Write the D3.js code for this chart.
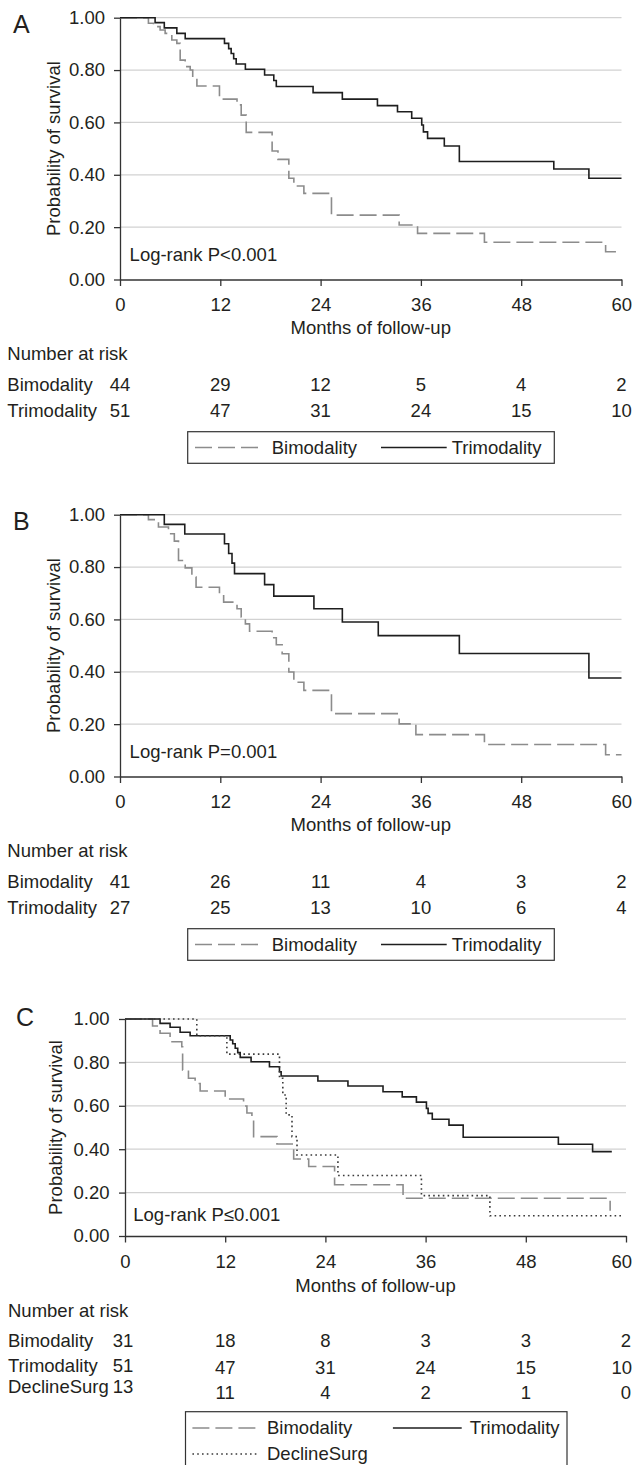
<!DOCTYPE html>
<html><head><meta charset="utf-8">
<script src="https://cdn.jsdelivr.net/npm/d3@7"></script>
<style>
html,body{margin:0;padding:0;background:#fff;}
svg{display:block;}
text{font-family:"Liberation Sans", Arial, Helvetica, sans-serif; fill:#231f20;}
</style></head><body>
<svg id="chart" width="633" height="1465"></svg>
<script>
// ---------- data ----------
const monthTicks = [0, 12, 24, 36, 48, 60];
const survTicks = [0, 0.2, 0.4, 0.6, 0.8, 1.0];
const seriesNames = ["Bimodality", "Trimodality", "DeclineSurg"];
const pTexts = ["Log-rank P<0.001", "Log-rank P=0.001", "Log-rank P\u22640.001"];
const panelLabels = ["A", "B", "C"];

// Panel A
const aBimoTime = [0, 3.4, 4.0, 4.8, 5.4, 6.2, 6.8, 7.2, 7.8, 8.4, 8.7, 9.2, 11.9, 14.0, 14.5, 15.1, 18.2, 18.9, 20.2, 20.8, 22.0, 25.3, 33.4, 35.6, 43.6, 58.1];
const aBimoSurv = [1.0, 0.979, 0.966, 0.953, 0.940, 0.915, 0.902, 0.838, 0.813, 0.800, 0.768, 0.739, 0.689, 0.667, 0.628, 0.562, 0.491, 0.459, 0.387, 0.357, 0.329, 0.246, 0.208, 0.176, 0.142, 0.106];
const aTrimoTime = [0, 4.2, 5.3, 6.8, 7.8, 12.5, 13.0, 13.3, 13.6, 13.9, 15.0, 17.3, 18.4, 18.7, 23.1, 26.6, 30.8, 33.2, 34.9, 36.1, 36.3, 36.8, 38.8, 40.6, 51.9, 56.1];
const aTrimoSurv = [1.0, 0.981, 0.961, 0.940, 0.920, 0.902, 0.882, 0.863, 0.843, 0.823, 0.803, 0.781, 0.760, 0.737, 0.714, 0.689, 0.664, 0.641, 0.616, 0.590, 0.564, 0.539, 0.510, 0.451, 0.422, 0.387];
const aRiskBimo = [44, 29, 12, 5, 4, 2];
const aRiskTrimo = [51, 47, 31, 24, 15, 10];

// Panel B
const bBimoTime = [0, 3.4, 4.6, 5.8, 6.5, 7.0, 7.8, 8.6, 9.1, 11.9, 12.4, 14.0, 14.5, 15.0, 15.5, 18.2, 18.7, 19.4, 20.2, 20.8, 22.0, 25.3, 33.4, 35.4, 43.6, 58.1];
const bBimoSurv = [1.0, 0.981, 0.953, 0.927, 0.899, 0.825, 0.797, 0.762, 0.723, 0.694, 0.666, 0.641, 0.609, 0.583, 0.555, 0.530, 0.503, 0.469, 0.399, 0.360, 0.329, 0.240, 0.201, 0.160, 0.122, 0.083];
const bTrimoTime = [0, 5.3, 7.75, 12.5, 13.0, 13.4, 13.7, 17.3, 18.4, 23.2, 26.6, 30.9, 40.6, 56.1];
const bTrimoSurv = [1.0, 0.963, 0.926, 0.889, 0.852, 0.815, 0.775, 0.733, 0.689, 0.641, 0.590, 0.538, 0.470, 0.376];
const bRiskBimo = [41, 26, 11, 4, 3, 2];
const bRiskTrimo = [27, 25, 13, 10, 6, 4];

// Panel C
const cBimoTime = [0, 3.3, 4.2, 5.4, 6.8, 6.9, 7.6, 8.4, 9.0, 12.0, 14.2, 14.6, 15.2, 15.4, 18.2, 20.2, 22.0, 25.1, 33.3, 58.1];
const cBimoSurv = [1.0, 0.968, 0.934, 0.895, 0.872, 0.765, 0.727, 0.703, 0.668, 0.631, 0.599, 0.567, 0.535, 0.458, 0.424, 0.355, 0.320, 0.236, 0.174, 0.116];
const cTrimoTime = [0, 4.2, 5.4, 6.6, 7.8, 12.6, 12.9, 13.2, 13.5, 13.8, 15.1, 17.3, 18.5, 18.7, 23.1, 26.7, 30.9, 33.2, 34.9, 36.1, 36.3, 36.8, 38.8, 40.5, 51.9, 56.0];
const cTrimoSurv = [1.0, 0.980, 0.962, 0.939, 0.923, 0.903, 0.886, 0.865, 0.845, 0.823, 0.803, 0.780, 0.757, 0.737, 0.714, 0.691, 0.665, 0.641, 0.617, 0.588, 0.565, 0.538, 0.511, 0.455, 0.423, 0.389];
const cDeclTime = [0, 8.6, 12.2, 18.5, 18.9, 19.3, 20.0, 20.6, 25.5, 35.5, 43.7];
const cDeclSurv = [1.0, 0.923, 0.838, 0.727, 0.650, 0.558, 0.458, 0.373, 0.279, 0.186, 0.093];
const cRiskBimo = [31, 18, 8, 3, 3, 2];
const cRiskTrimo = [51, 47, 31, 24, 15, 10];
const cRiskDecl = [13, 11, 4, 2, 1, 0];

// ---------- styles ----------
const styles = {
  dash:  {stroke: "#8c8c8c", width: 1.6, dash: "17,6"},
  solid: {stroke: "#1e1e1e", width: 1.6, dash: null},
  dot:   {stroke: "#3a3a3a", width: 1.6, dash: "1.6,3.2"}
};
const FS = 18.5;
const W = 633;

// ---------- layout ----------
function layoutAB(dy) {
  return {
    x0: 120, x1: 621.5, yTop: 17.7 + dy, yBot: 279.5 + dy,
    labelX: 13, labelY: 33 + dy, tickRight: 105, xTickBase: 310.7 + dy, xTitleBase: 334 + dy,
    yTitleX: 60, logX: 129.6, logY: 260.7 + dy, narY: 360 + dy, rowX: 7.3,
    rowLabelY: [391 + dy, 416.7 + dy], rowNumY: [391 + dy, 416.7 + dy], firstShift: 0,
    legend: {x: 187.7, y: 431.7 + dy, w: 366.6, h: 31.6,
      items: [{sx1: 195, sx2: 260, tx: 271.7, ly: 447.5 + dy, ty: 454 + dy},
              {sx1: 381, sx2: 446.7, tx: 451.7, ly: 447.5 + dy, ty: 454 + dy}]}
  };
}
const layoutC = {
  x0: 125, x1: 626, yTop: 1019, yBot: 1236,
  labelX: 16, labelY: 1026, tickRight: 109.5, xTickBase: 1268.3, xTitleBase: 1291.7,
  yTitleX: 62, logX: 133.3, logY: 1221, narY: 1317, rowX: 8,
  rowLabelY: [1346.7, 1371.7, 1393.3], rowNumY: [1346.7, 1374, 1399.3], firstShift: -2,
  legend: {x: 185.5, y: 1411.7, w: 381.5, h: 64,
    items: [{sx1: 192.4, sx2: 259.2, tx: 267, ly: 1428, ty: 1434},
            {sx1: 392.9, sx2: 461.7, tx: 469.8, ly: 1428, ty: 1434},
            {sx1: 192.4, sx2: 259.2, tx: 267, ly: 1454, ty: 1460}]}
};

const panels = [
  {label: panelLabels[0], p: pTexts[0], L: layoutAB(0),
   series: [{name: seriesNames[0], t: aBimoTime, s: aBimoSurv, end: 60, st: "dash"},
            {name: seriesNames[1], t: aTrimoTime, s: aTrimoSurv, end: 60, st: "solid"}],
   risk: [aRiskBimo, aRiskTrimo]},
  {label: panelLabels[1], p: pTexts[1], L: layoutAB(497),
   series: [{name: seriesNames[0], t: bBimoTime, s: bBimoSurv, end: 60, st: "dash"},
            {name: seriesNames[1], t: bTrimoTime, s: bTrimoSurv, end: 60, st: "solid"}],
   risk: [bRiskBimo, bRiskTrimo]},
  {label: panelLabels[2], p: pTexts[2], L: layoutC,
   series: [{name: seriesNames[0], t: cBimoTime, s: cBimoSurv, end: 58.1, st: "dash"},
            {name: seriesNames[1], t: cTrimoTime, s: cTrimoSurv, end: 58.3, st: "solid"},
            {name: seriesNames[2], t: cDeclTime, s: cDeclSurv, end: 59.6, st: "dot"}],
   risk: [cRiskBimo, cRiskTrimo, cRiskDecl]}
];

const svg = d3.select("#chart");

function styleLine(sel, st) {
  const s = styles[st];
  sel.attr("fill", "none").attr("stroke", s.stroke).attr("stroke-width", s.width);
  if (s.dash) sel.attr("stroke-dasharray", s.dash);
  return sel;
}

// keep centred texts inside the right edge of the page
function clampRight(sel) {
  sel.each(function () {
    const b = this.getBBox();
    const m = this.getCTM();
    const right = (m ? m.e : 0) + b.x + b.width;
    if (right > W - 1) {
      const shift = right - (W - 1);
      const cur = +this.getAttribute("x") || 0;
      this.setAttribute("x", cur - shift);
    }
  });
}

panels.forEach(P => {
  const L = P.L;
  const g = svg.append("g");
  const x = d3.scaleLinear().domain([0, 60]).range([L.x0, L.x1]);
  const y = d3.scaleLinear().domain([0, 1]).range([L.yBot, L.yTop]);

  // gridlines
  g.append("g").selectAll("line").data(survTicks.filter(d => d > 0)).join("line")
    .attr("x1", x(0)).attr("x2", x(60))
    .attr("y1", d => y(d)).attr("y2", d => y(d))
    .attr("stroke", "#d2d2d2").attr("stroke-width", 1.2);

  // y axis
  const ya = g.append("g").attr("transform", `translate(${x(0)},0)`)
    .call(d3.axisLeft(y).tickValues(survTicks).tickFormat(d3.format(".2f")).tickSize(6).tickSizeOuter(0).tickPadding(9));
  ya.select(".domain").attr("stroke", "#333").attr("stroke-width", 1.3);
  ya.selectAll(".tick line").attr("stroke", "#333").attr("stroke-width", 1.3);
  ya.selectAll(".tick text").attr("font-size", FS).attr("font-family", null).attr("fill", "#231f20")
    .attr("x", -(x(0) - L.tickRight));

  // x axis
  const xa = g.append("g").attr("transform", `translate(0,${y(0)})`)
    .call(d3.axisBottom(x).tickValues(monthTicks).tickFormat(d3.format("d")).tickSize(6.5).tickSizeOuter(0));
  xa.select(".domain").attr("stroke", "#333").attr("stroke-width", 1.3);
  xa.selectAll(".tick line").attr("stroke", "#333").attr("stroke-width", 1.3);
  xa.selectAll(".tick text").attr("font-size", FS).attr("font-family", null).attr("fill", "#231f20")
    .attr("y", L.xTickBase - L.yBot).attr("dy", 0);
  clampRight(xa.selectAll(".tick text"));

  // curves
  const line = d3.line().curve(d3.curveStepAfter).x(d => x(d[0])).y(d => y(d[1]));
  P.series.forEach(S => {
    const pts = S.t.map((t, i) => [t, S.s[i]]);
    pts.push([S.end, S.s[S.s.length - 1]]);
    styleLine(g.append("path").datum(pts).attr("d", line), S.st);
  });

  // panel label
  g.append("text").attr("x", L.labelX).attr("y", L.labelY).attr("font-size", 25).text(P.label);

  // axis titles
  g.append("text").attr("transform", `translate(${L.yTitleX},${(L.yTop + L.yBot) / 2}) rotate(-90)`)
    .attr("text-anchor", "middle").attr("font-size", FS).text("Probability of survival");
  g.append("text").attr("x", (x(0) + x(60)) / 2).attr("y", L.xTitleBase)
    .attr("text-anchor", "middle").attr("font-size", FS).text("Months of follow-up");

  // log-rank
  g.append("text").attr("x", L.logX).attr("y", L.logY).attr("font-size", FS).text(P.p);

  // number at risk
  g.append("text").attr("x", L.rowX).attr("y", L.narY).attr("font-size", FS).text("Number at risk");
  P.risk.forEach((row, ri) => {
    g.append("text").attr("x", L.rowX).attr("y", L.rowLabelY[ri]).attr("font-size", FS).text(P.series[ri].name);
    const nums = g.append("g").selectAll("text").data(row).join("text")
      .attr("x", (d, i) => x(monthTicks[i]) + (i === 0 ? L.firstShift : 0))
      .attr("y", (d, i) => i === 0 ? L.rowLabelY[ri] : L.rowNumY[ri])
      .attr("text-anchor", "middle").attr("font-size", FS).text(d => d);
    clampRight(nums);
  });

  // legend
  const lg = L.legend;
  g.append("rect").attr("x", lg.x).attr("y", lg.y).attr("width", lg.w).attr("height", lg.h)
    .attr("fill", "none").attr("stroke", "#333").attr("stroke-width", 1.2);
  P.series.forEach((S, i) => {
    const it = lg.items[i];
    styleLine(g.append("line").attr("x1", it.sx1).attr("x2", it.sx2).attr("y1", it.ly).attr("y2", it.ly), S.st);
    g.append("text").attr("x", it.tx).attr("y", it.ty).attr("font-size", FS).text(S.name);
  });
});
</script>
</body></html>
